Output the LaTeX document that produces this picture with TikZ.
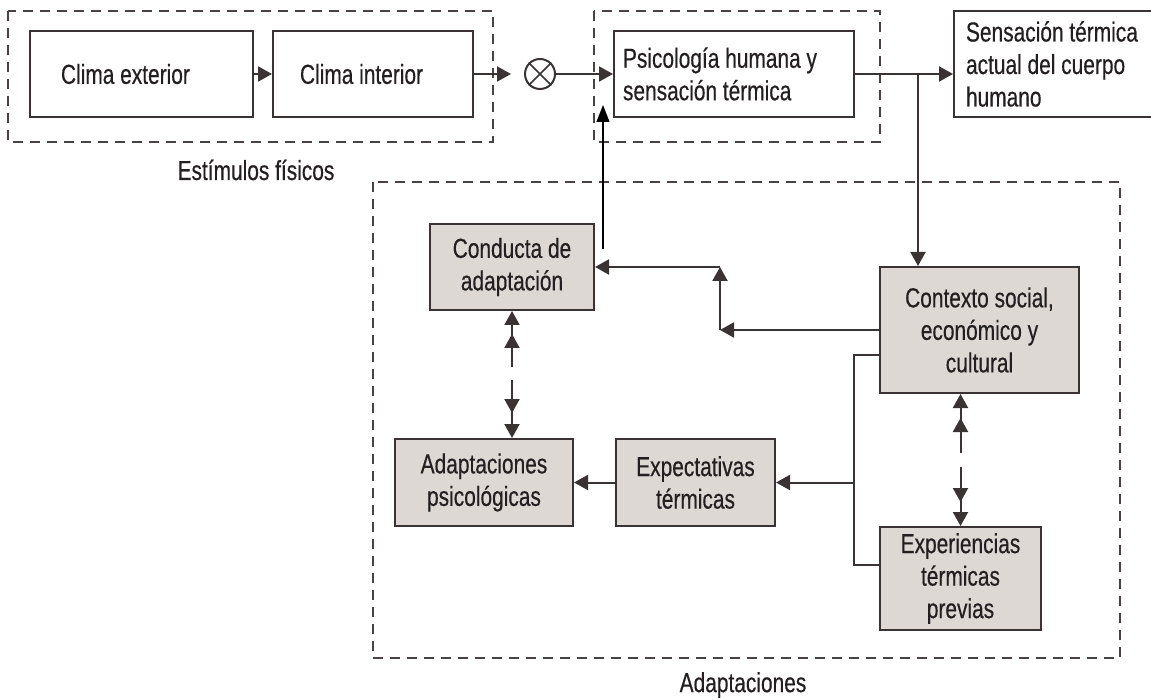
\documentclass[tikz,border=0pt]{standalone}
\usepackage{fontspec}
\setmainfont{Liberation Sans}[FakeStretch=0.76, FakeBold=0.4]
\usetikzlibrary{arrows.meta}
\definecolor{ln}{HTML}{3A3333}
\definecolor{dsh}{HTML}{4A4242}
\definecolor{gfill}{HTML}{DDD8D4}
\definecolor{txt}{HTML}{231F20}
\tikzset{
  every node/.style={font=\fontsize{27.5}{32.5}\selectfont, text=txt,
    execute at begin node={\spaceskip=0pt\xspaceskip=0pt\relax}},
  wbox/.style={draw=ln, line width=2pt, fill=white, inner ysep=0pt, align=left},
  gbox/.style={draw=ln, line width=2pt, fill=gfill, inner sep=0pt, align=center},
  grp/.style={draw=dsh, line width=1.7pt, dash pattern=on 10pt off 7pt},
  tri/.style={-{Triangle[length=14pt,width=15pt]}},
  conn/.style={draw=ln, line width=2pt},
  fb/.style={draw=black, line width=1.2pt, -{Triangle[length=17pt,width=13pt]}},
}
\begin{document}
\begin{tikzpicture}[x=1pt,y=-1pt]
\fill[white] (0,0) rectangle (1151,700);
\clip (0,0) rectangle (1151,700);

% group frames
\draw[grp] (8,11) rectangle (493,142);
\draw[grp] (594,11) rectangle (880,142);
\draw[grp] (373,182) rectangle (1120,658);

% top row
\node[wbox, minimum width=223, minimum height=86, text width=161, inner xsep=31] (ext) at (141.5,74) {Clima exterior};
\node[wbox, minimum width=200, minimum height=86, text width=146, inner xsep=27] (int) at (373,74) {Clima interior};
\node[draw=ln, circle, line width=2pt, minimum size=30pt, inner sep=0pt] (ot) at (540,74) {};
\draw[ln, line width=1.6pt] (ot.45) -- (ot.225) (ot.135) -- (ot.315);
\node[wbox, minimum width=240, minimum height=86, text width=222, inner xsep=9] (psic) at (734,74) {Psicología humana y\\sensación térmica};
\node[wbox, minimum width=200, minimum height=106, text width=188, inner xsep=12] (sens) at (1060,64) {Sensación térmica\\actual del cuerpo\\humano};

% gray boxes
\node[gbox, minimum width=164, minimum height=86] (cond) at (512,267) {Conducta de\\adaptación};
\node[gbox, minimum width=199, minimum height=126] (ctx) at (979.5,330) {Contexto social,\\económico y\\cultural};
\node[gbox, minimum width=178, minimum height=87] (adap) at (484,482.5) {Adaptaciones\\psicológicas};
\node[gbox, minimum width=159, minimum height=87] (expc) at (695.5,482.5) {Expectativas\\térmicas};
\node[gbox, minimum width=161, minimum height=103] (expe) at (960.5,578.5) {Experiencias\\térmicas\\previas};

% labels
\node (lab1) at (256,170) {Estímulos físicos};
\node (lab2) at (743,685) {Adaptaciones};

% coordinates
\coordinate (br) at (918,74);
\coordinate (fbs) at (603,249);
\coordinate (fbe) at (603,105);
\coordinate (k1) at (720,330);
\coordinate (k2) at (720,267);
\coordinate (j1) at (854,355);
\coordinate (j2) at (854,565);
\coordinate (j3) at (854,482.5);
\coordinate (ca) at (512,367);
\coordinate (cb) at (512,380);
\coordinate (xa) at (960.5,453);
\coordinate (xb) at (960.5,467);

% connectors top
\draw[conn,tri] (ext.east |- int.west) -- (int.west);
\draw[conn,tri,shorten >=13pt] (int.east) -- (ot.west);
\draw[conn,tri] (ot.east) -- (ot.east -| psic.west);
\draw[conn,tri] (ot.east -| psic.east) -- (ot.east -| sens.west);
\draw[conn,tri] (br) -- (br |- ctx.north);
\draw[fb] (fbs) -- (fbe);

% adaptation block
\draw[conn,tri] (ctx.west) -- (k1);
\draw[conn,tri] (k1) -- (k2);
\draw[conn,tri] (k2) -- (cond.east);
\draw[conn] (ctx.west |- j1) -- (j1) -- (j2) -- (expe.west |- j2);
\draw[conn,tri] (j3) -- (expc.east);
\draw[conn,tri] (expc.west) -- (adap.east);

% double arrows
\draw[conn,tri] (ca) -- (cond.south);
\draw[conn,tri,shorten >=23pt] (ca) -- (cond.south);
\draw[conn,tri] (cb) -- (cb |- adap.north);
\draw[conn,tri,shorten >=25pt] (cb) -- (cb |- adap.north);
\draw[conn,tri] (xa) -- (xa |- ctx.south);
\draw[conn,tri,shorten >=24pt] (xa) -- (xa |- ctx.south);
\draw[conn,tri] (xb) -- (expe.north);
\draw[conn,tri,shorten >=24pt] (xb) -- (expe.north);
\end{tikzpicture}
\end{document}
